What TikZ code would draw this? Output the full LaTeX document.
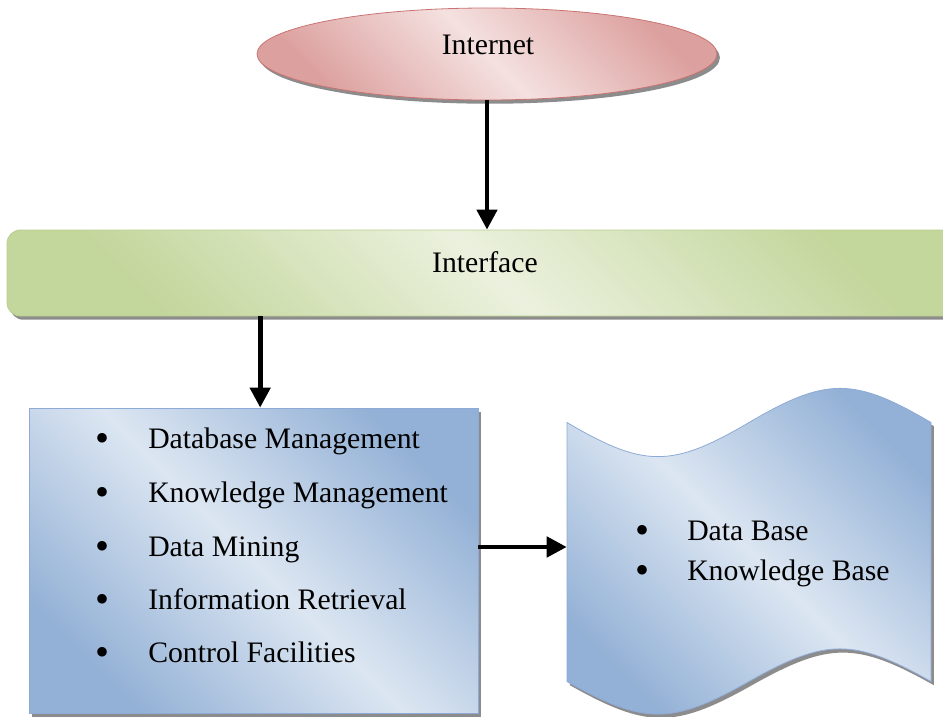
\documentclass[tikz,border=0pt]{standalone}
\usepackage{fontspec}
\setmainfont{Liberation Serif}
\usetikzlibrary{shapes.geometric,shadows,arrows.meta}
\definecolor{pinkL}{HTML}{F4E1E0}
\definecolor{pinkD}{HTML}{DCA09E}
\definecolor{pinkB}{HTML}{C97472}
\definecolor{grnL}{HTML}{EBF1DE}
\definecolor{grnD}{HTML}{C3D69B}
\definecolor{grnB}{HTML}{B9CE8F}
\definecolor{bluL}{HTML}{DCE6F2}
\definecolor{bluD}{HTML}{93B1D6}
\definecolor{bluB}{HTML}{8EAAD6}
\tikzset{
  shdw/.style={drop shadow={shadow xshift=2.2pt,shadow yshift=-2.8pt,opacity=0.45,fill=black}},
  arr/.style={line width=3.5pt,-{Triangle[length=15pt,width=15pt]}},
  txt/.style={font=\fontsize{22.3}{26}\selectfont,inner sep=0pt,anchor=base west},
  ctxt/.style={font=\fontsize{22.3}{26}\selectfont,inner sep=0pt,anchor=base},
  bul/.style={font=\fontsize{30}{32}\selectfont,inner sep=0pt,anchor=base},
}
\begin{document}
\begin{tikzpicture}[x=0.75pt,y=-0.75pt]
\useasboundingbox (0,0) rectangle (943,717);
% Internet
\node[ellipse,draw=pinkB,line width=0.6pt,minimum width=345pt,minimum height=69pt,
  top color=pinkD,bottom color=pinkD,middle color=pinkL,shading angle=-45,shdw] (inet) at (487,54) {};
\node[ctxt] (inettxt) at (488,55) {Internet};
% Interface
\node[rectangle,rounded corners=10pt,draw=grnB,line width=0.6pt,minimum width=729.75pt,minimum height=64.5pt,
  top color=grnD,bottom color=grnD,middle color=grnL,shading angle=-45,shdw] (iface) at (493.5,273) {};
\node[ctxt] (ifacetxt) at (485,272) {Interface};
% Processing box
\node[rectangle,draw=bluB,line width=0.6pt,minimum width=336.75pt,minimum height=228.75pt,
  top color=bluD,bottom color=bluD,middle color=bluL,shading angle=-45,shdw] (box) at (253.5,560.5) {};
\foreach \yy/\tt [count=\i] in {448/Database Management,502/Knowledge Management,556/Data Mining,609/Information Retrieval,662/Control Facilities}{
  \node[bul] (bb\i) at (103,\yy+3) {\textbullet};
  \node[txt] (lt\i) at (148,\yy) {\tt};
}
% Tape shape (storage)
\path[draw=bluB,line width=0.6pt,top color=bluD,bottom color=bluD,middle color=bluL,shading angle=-45,shdw]
  (567,422.5) .. controls (644.2,468) and (671.8,468) .. (749,422.5)
  .. controls (826.2,377) and (853.8,377) .. (931,422.5)
  -- (931,681.5)
  .. controls (853.8,638) and (826.2,638) .. (749,681.5)
  .. controls (671.8,725) and (644.2,725) .. (567,681.5) -- cycle;
\node[rectangle,inner sep=0pt,minimum width=273pt,minimum height=190pt] (db) at (749,547) {};
\foreach \yy/\tt [count=\i] in {540/Data Base,580/Knowledge Base}{
  \node[bul] (rb\i) at (642,\yy+3) {\textbullet};
  \node[txt] (rt\i) at (687,\yy) {\tt};
}
% Connectors
\draw[arr] (inet.south) -- (inet.south |- iface.north);
\draw[arr] ([xshift=5pt]box.north |- iface.south) -- ([xshift=5pt]box.north);
\draw[arr] (box.east |- db.west) -- (db.west);
\end{tikzpicture}
\end{document}
